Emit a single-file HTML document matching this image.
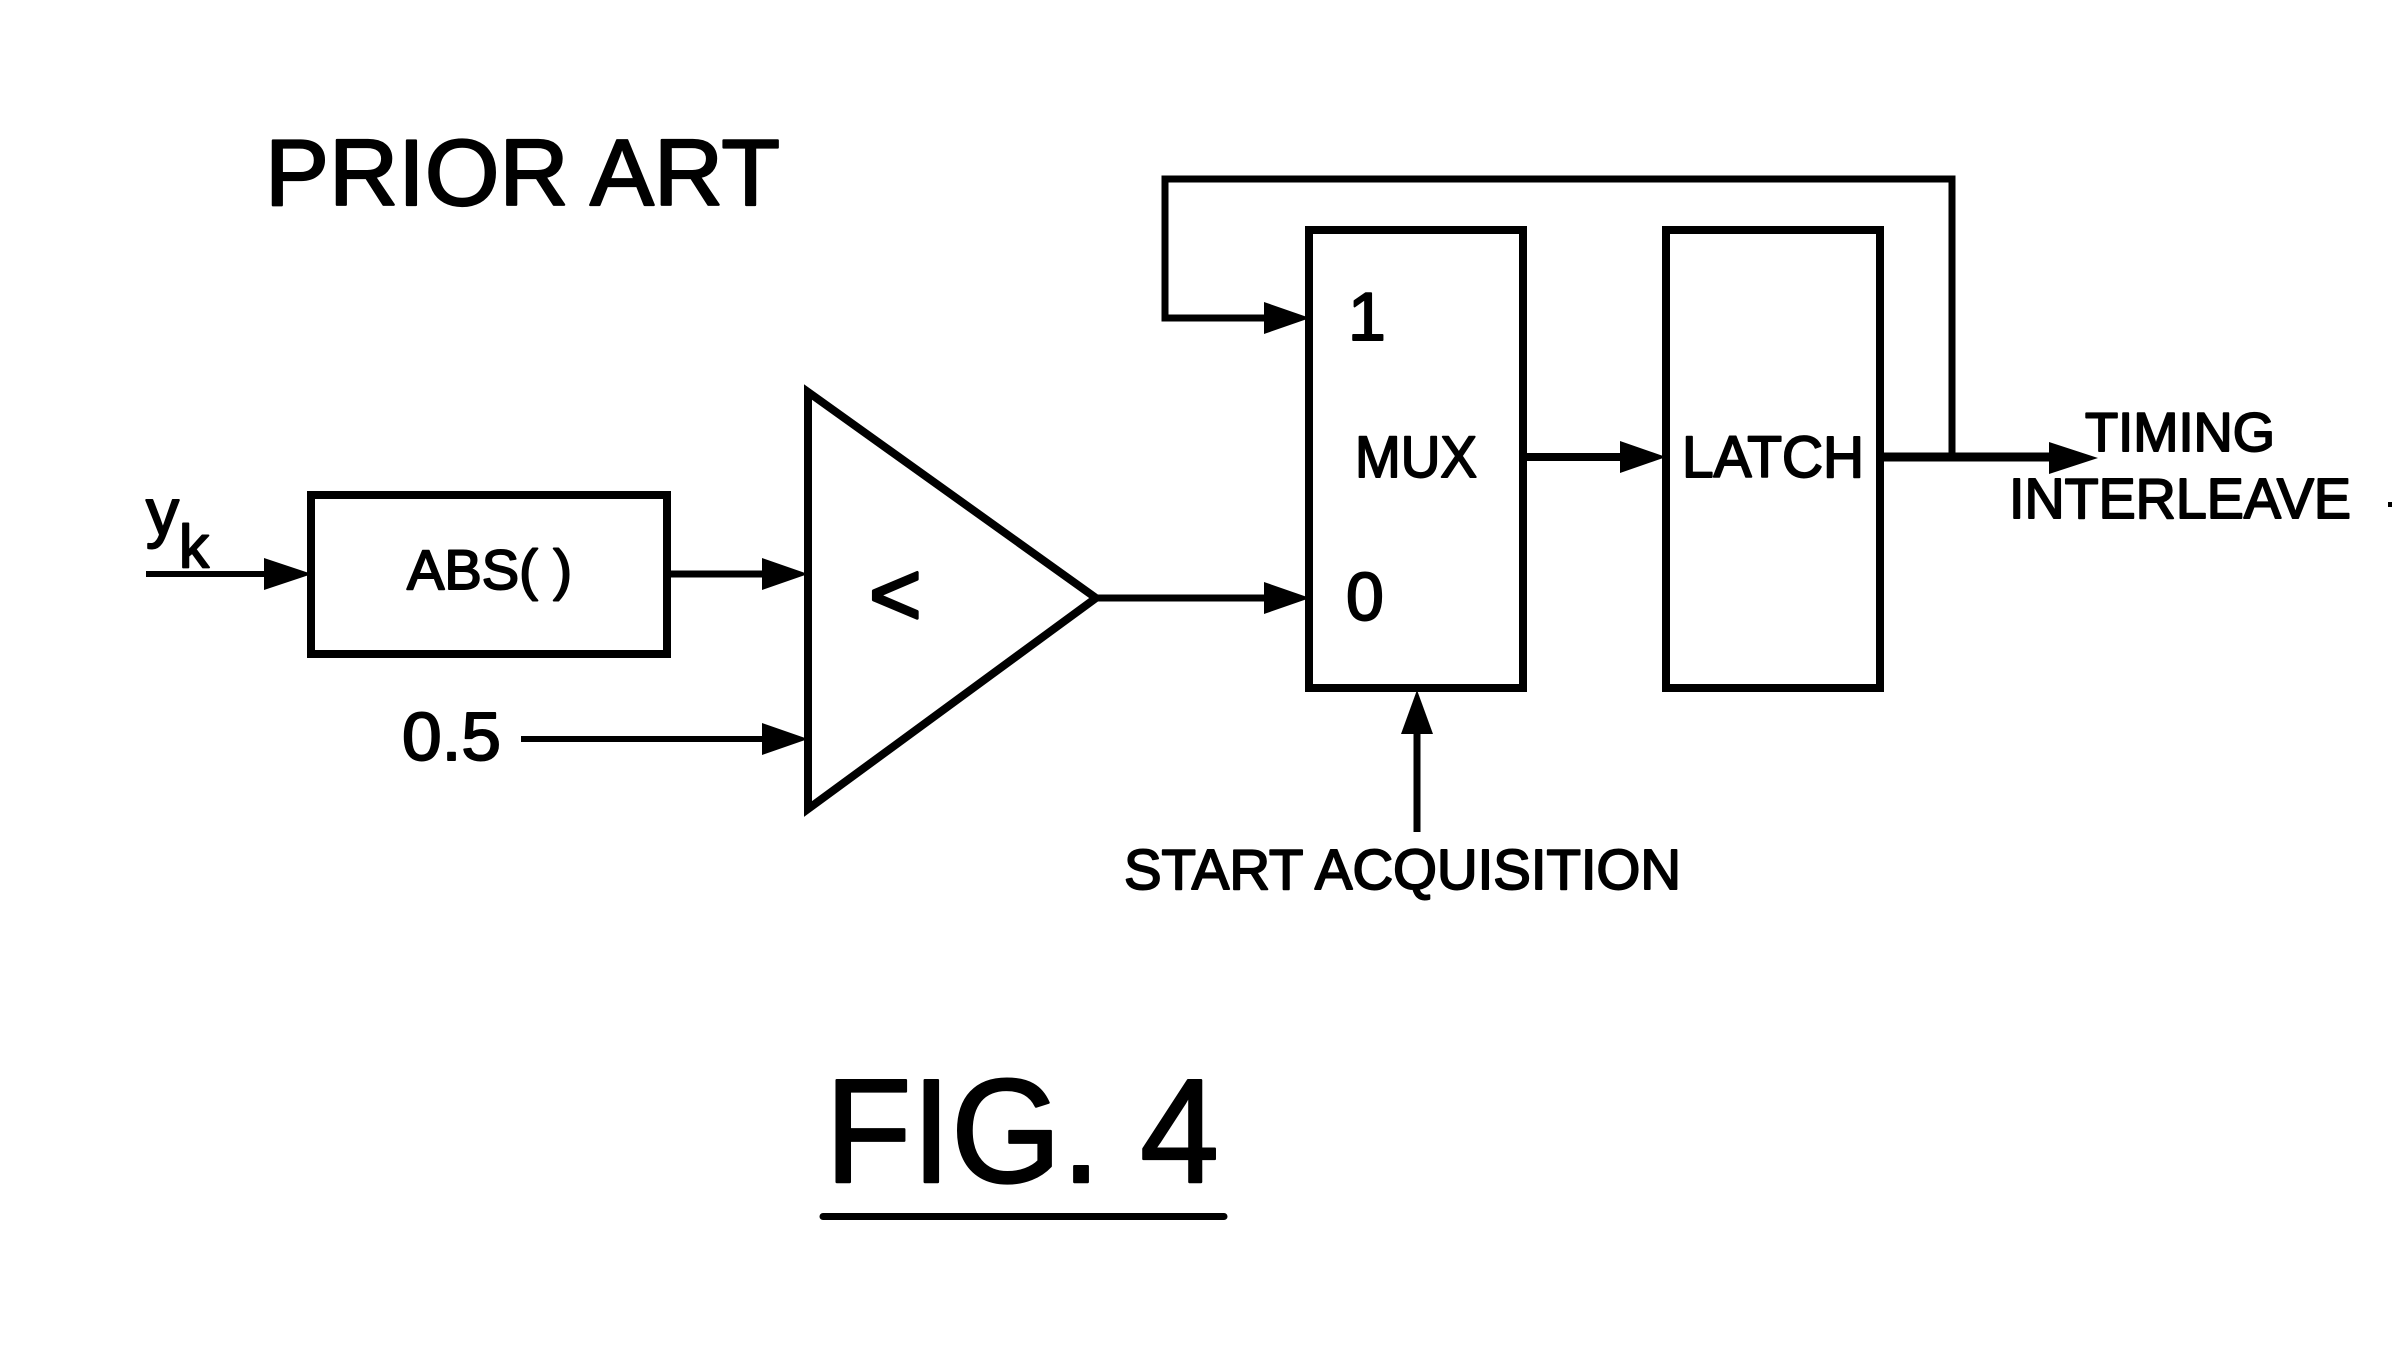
<!DOCTYPE html>
<html>
<head>
<meta charset="utf-8">
<style>
html,body{margin:0;padding:0;background:#fff;width:2392px;height:1362px;overflow:hidden}
svg{display:block}
text{font-family:"Liberation Sans",sans-serif;fill:#000;stroke:#000;stroke-width:1.9px;stroke-linejoin:round}
.l{fill:none;stroke:#000;stroke-width:7}
.h{fill:#000;stroke:none}
</style>
</head>
<body>
<svg width="2392" height="1362" viewBox="0 0 2392 1362" xmlns="http://www.w3.org/2000/svg">
<rect width="2392" height="1362" fill="#fff"/>

<text x="265" y="205" font-size="94" textLength="515" lengthAdjust="spacingAndGlyphs" style="stroke-width:2.2px">PRIOR ART</text>

<!-- input -->
<text x="146" y="535" font-size="66">y</text>
<text x="179" y="567" font-size="60">k</text>
<path class="l" d="M146 574H270" style="stroke-width:6"/>
<path class="h" d="M264 558L312 574L264 590Z"/>

<!-- ABS box -->
<rect class="l" x="311" y="495" width="356" height="159" style="stroke-width:8"/>
<text x="407" y="589" font-size="56" textLength="165" lengthAdjust="spacingAndGlyphs">ABS( )</text>
<path class="l" d="M670 574H770"/>
<path class="h" d="M762 558L808 574L762 590Z"/>

<!-- 0.5 -->
<text x="402" y="760" font-size="68" textLength="99" lengthAdjust="spacingAndGlyphs">0.5</text>
<path class="l" d="M521 739H770" style="stroke-width:6"/>
<path class="h" d="M762 723L808 739L762 755Z"/>

<!-- comparator -->
<path class="l" d="M808 392L1096 598L808 809Z" style="stroke-width:8"/>
<text x="869" y="625" font-size="90" style="stroke-width:3px">&lt;</text>
<path class="l" d="M1098 598H1270"/>
<path class="h" d="M1264 582L1310 598L1264 614Z"/>

<!-- MUX -->
<rect class="l" x="1309" y="230" width="214" height="458" style="stroke-width:8"/>
<text x="1348" y="340" font-size="68">1</text>
<text x="1346" y="620" font-size="68">0</text>
<text x="1355" y="477" font-size="58" textLength="122" lengthAdjust="spacingAndGlyphs">MUX</text>
<path class="l" d="M1527 457H1630" style="stroke-width:8"/>
<path class="h" d="M1620 441L1666 457L1620 473Z"/>

<!-- LATCH -->
<rect class="l" x="1666" y="230" width="214" height="458" style="stroke-width:8"/>
<text x="1682" y="477" font-size="58" textLength="182" lengthAdjust="spacingAndGlyphs">LATCH</text>
<path class="l" d="M1883 457H2060" style="stroke-width:9"/>
<path class="h" d="M2049 442L2098 458L2049 474Z"/>

<!-- feedback -->
<path class="l" d="M1952 457V179H1165V318H1270"/>
<path class="h" d="M1264 302L1310 318L1264 334Z"/>

<!-- start acquisition -->
<path class="l" d="M1417 832V725"/>
<path class="h" d="M1417 690L1433 734H1401Z"/>
<text x="1124" y="889" font-size="57" textLength="557" lengthAdjust="spacingAndGlyphs">START ACQUISITION</text>

<!-- timing interleave -->
<text x="2085" y="451" font-size="55" textLength="190" lengthAdjust="spacingAndGlyphs">TIMING</text>
<text x="2009" y="518" font-size="57" textLength="342" lengthAdjust="spacingAndGlyphs">INTERLEAVE</text>
<rect x="2388" y="502" width="4" height="5" fill="#000"/>

<!-- figure label -->
<text x="825" y="1182" font-size="148" textLength="394" lengthAdjust="spacingAndGlyphs" style="stroke-width:2.4px">FIG. 4</text>
<path d="M823 1216.5H1224" stroke="#000" stroke-width="7" stroke-linecap="round" fill="none"/>
</svg>
</body>
</html>
